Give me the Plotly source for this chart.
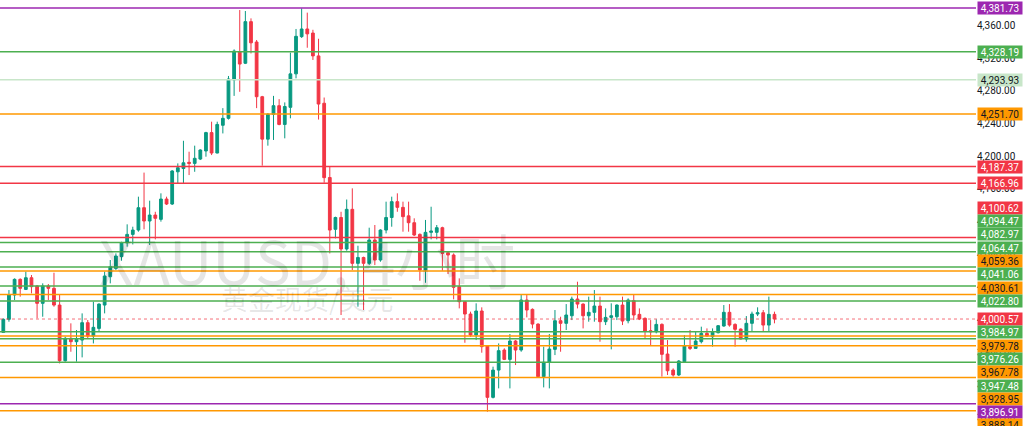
import plotly.graph_objects as go

# OHLC (XAUUSD 4h)
opens = [3984.2,4000.2,4030,4049.2,4036.9,4051.2,4041,4019.8,4041,4038.2,4017.7,3949.5,3976.9,3972.8,3974.8,3996.1,3979.7,3989.1,4017.7,4052.4,
4062.6,4077,4094,4104.3,4109.6,4137,4120.7,4128,4122.7,4147.6,4141.5,4181,4185,4192.6,4191.3,4196.6,4206.5,4229,4204,4238,
4246.5,4293.5,4328,4314,4365,4340,4273,4221,4251.4,4262,4239,4260,4301,4346.6,4356,4351,4323,4265,4174,4110.5,
4125,4086.4,4135,4068.8,4076,4068.8,4097.4,4072.9,4109.6,4125,4144.4,4137.4,4127,4118.6,4104.3,4060.6,4106.8,4106.8,4112.5,4081.9,
4079,4040.2,4021.8,4006.7,3981,4010.4,3967.5,3904.6,3938,3962.6,3951.1,3973.6,3962.6,4023.9,4012.4,3994.4,3930,3947.5,3963.4,3998.5,
3995.3,4004.6,4025.1,4018.9,4004.6,4008.8,4016.5,3997.3,4002.6,4003.4,4017.7,3998.5,4023.1,4006.3,4001.4,3986.3,3985,3994,3957.7,3938,
3932,3948.3,3966.7,3964.6,3972.8,3983,3978.9,3983.8,3992,4008.8,3994,3988.3,3976.1,3995.3,4006.7,4008.3,3993.2,4006.3]
highs = [4001.4,4036.1,4050.4,4050.4,4058.6,4054.5,4042.2,4044.3,4043.5,4057.3,4030,3978.9,3995.3,3987.1,4007.5,3999.4,4021.8,4019.8,4058.6,4072.9,
4081,4095.3,4116.6,4113.7,4150.5,4180,4145.6,4132,4154.6,4150.5,4183,4191.3,4219,4205.6,4213,4208.5,4230,4242.4,4242.4,4259,
4298.4,4331,4379.2,4378,4369,4342.5,4274,4253,4274,4270,4266,4327,4356,4381.3,4376,4355,4344,4272,4187,4126,
4132,4147,4160.7,4090.4,4077,4112.5,4115.8,4110.5,4144.4,4150.5,4154.6,4144.4,4144.4,4124,4105.5,4122,4138.2,4115.8,4113.7,4083,
4081,4050.4,4021.8,4009.6,4019.8,4014.9,3967.9,3942.2,3970.7,3964.7,3982.2,3974.8,4030,4030,4013.6,3995.3,3966.7,3982.2,4011.6,4003.4,
4018.9,4028,4046.3,4019.8,4028,4036.1,4028,4013.6,4019.8,4018.5,4028,4025.9,4030.8,4013.6,4002.6,3999.3,4000.2,3995.3,3974.8,3940.1,
3950.3,3981,3987.1,3985,3991.2,3989.1,3989.1,3993.2,4017.7,4018.9,3995.3,3989.1,4004.2,4009.6,4014.9,4011.6,4028,4009.6]
lows = [3984,3997.3,4023.9,4028,4036.1,4032,4001.4,4003.4,4023.9,4015.7,3946.2,3948.3,3960.5,3948.3,3953.6,3976.9,3970.7,3985,4007.5,4044.3,
4060.6,4072,4089.2,4092,4107.6,4110.5,4091.3,4098.2,4119.9,4140.3,4140.3,4166.8,4166,4177,4181,4195.4,4199.5,4201.5,4203.6,4228,
4245,4274,4279,4313,4326,4259,4188.5,4213,4220,4238,4222,4246.5,4295.5,4345,4333,4318,4245,4167.6,4081,4099.4,
4005.5,4084.3,4060.6,4015.7,4011.6,4066.7,4066.7,4070.8,4105.5,4113.7,4132,4107.6,4107.6,4102.3,4047.5,4045,4098.2,4098.2,4059.8,4055.7,
4024.7,4013.6,3971.5,3978.9,3974.8,3959.3,3887,3903.3,3915.6,3950.3,3915.6,3944.2,3960.5,4002.6,3989.1,3929.1,3916.8,3915.6,3956.4,3960.5,
3987.1,3999.3,4013.6,3989.1,3997.3,3997.3,3972.8,3993.2,3963.4,3999.3,3993.2,3995.3,3999.3,3999.3,3976.9,3967.5,3983,3930,3932,3930,
3930.7,3947.1,3962.6,3964.6,3970.7,3978.9,3966.7,3983,3991.2,3991.2,3966.7,3975.6,3972.8,3985,4004.2,3985,3985,3995.3]
closes = [4000.2,4030,4049.2,4038.2,4051.2,4040.2,4019.8,4041,4038.2,4017.7,3949.5,3976.9,3972.8,3975.6,3996.1,3979.7,3990.4,4018.9,4053.3,4064.7,
4077.8,4094,4104.3,4109.6,4137,4120.7,4128,4124,4147.6,4141.5,4182,4186,4192,4191.3,4197.5,4207.7,4229,4204,4239,4246.5,
4294.7,4329,4313,4365,4339,4273,4221,4251.4,4262,4239,4261,4301,4347,4356,4350,4323,4264,4173.8,4109.6,4125,
4086.4,4135,4068.8,4076,4068.8,4097.4,4072.9,4109.6,4125,4144.4,4137.4,4126,4118.6,4103.5,4060.6,4106.8,4108.4,4112.5,4081,4079,
4039.4,4021.8,4006.7,3981,4010.4,3966.7,3904.6,3938,3961.8,3951.1,3973.6,3962.6,4023.9,4011.6,3994.4,3930,3947.5,3963.8,3998.5,3995.3,
4005.5,4025.1,4018.9,4004.6,4008.8,4016.5,3997.3,4002.6,4004.6,4017.7,3998.1,4023.9,4005.5,4000.6,3985.9,3985,3994,3957.3,3937.2,3932,
3949.1,3967.5,3964.6,3973.6,3983,3979.7,3984.2,3992.4,4008.8,3993.2,3987.9,3976.1,3995.3,4006.7,4008.3,3993.2,4006.3,4000.57]

# Horizontal level lines: price, colour
level_prices = [4381.73,4328.19,4293.93,4251.70,4187.37,4166.96,4100.62,4094.47,4082.97,4064.47,4059.36,4041.06,
                4030.61,4022.80,4000.57,3984.97,3979.78,3976.26,3967.78,3947.48,3928.95,3896.91,3888.14]
PURPLE, GREEN, LGREEN, ORANGE, RED = "#9c27b0", "#4caf50", "#c8e6c9", "#ff9800", "#f23645"
level_colors = [PURPLE,GREEN,LGREEN,ORANGE,RED,RED,RED,GREEN,GREEN,GREEN,ORANGE,GREEN,
                ORANGE,GREEN,RED,GREEN,ORANGE,GREEN,ORANGE,GREEN,ORANGE,PURPLE,ORANGE]
current_price = 4000.57
tick_vals = [3880,3920,3960,4000,4040,4080,4120,4160,4200,4240,4280,4320,4360]

Y0, Y1 = 3869.5, 4391.5
H = 426
x = list(range(len(opens)))

fig = go.Figure(go.Candlestick(
    x=x, open=opens, high=highs, low=lows, close=closes,
    increasing=dict(line=dict(color="#089981", width=1), fillcolor="#089981"),
    decreasing=dict(line=dict(color="#f23645", width=1), fillcolor="#f23645"),
    whiskerwidth=0, showlegend=False, hoverinfo="skip"))

for p, c in zip(level_prices, level_colors):
    if p == current_price:
        fig.add_shape(type="line", xref="paper", x0=0, x1=1, y0=p, y1=p,
                      line=dict(color=c, width=1, dash="dot"), opacity=0.7)
    else:
        fig.add_shape(type="line", xref="paper", x0=0, x1=1, y0=p, y1=p,
                      line=dict(color=c, width=1.5))

# label stacking around current price
def to_px(p): return (Y1 - p) / (Y1 - Y0) * H
def to_p(px): return Y1 - px / H * (Y1 - Y0)
gap = 13.3
pos = {}
above = sorted([p for p in level_prices if p > current_price])
below = sorted([p for p in level_prices if p < current_price], reverse=True)
pos[current_price] = to_px(current_price)
prev = pos[current_price]
for p in above:
    y = min(to_px(p), prev - gap); pos[p] = y; prev = y
prev = pos[current_price]
for p in below:
    y = max(to_px(p), prev + gap); pos[p] = y; prev = y

for p, c in zip(level_prices, level_colors):
    dark = c in (ORANGE, LGREEN)
    fig.add_annotation(xref="paper", x=1, xanchor="left", xshift=1, y=to_p(pos[p]), yanchor="middle",
                       text=f"{p:,.2f}", showarrow=False, bgcolor=c, borderpad=0, width=44, height=12,
                       font=dict(family="Roboto", size=10, color="#131722" if dark else "white"))

fig.add_annotation(xref="paper", yref="paper", x=0.315, xanchor="center", y=0.394, text="XAUUSD, 4小时",
                   showarrow=False, font=dict(family="Noto Sans CJK SC", size=60, color="rgba(0,0,0,0.1)"))
fig.add_annotation(xref="paper", yref="paper", x=0.315, xanchor="center", y=0.25, text="黄金现货/美元",
                   showarrow=False, font=dict(family="Noto Sans CJK SC", size=27, color="rgba(0,0,0,0.1)"))

fig.update_layout(
    width=1024, height=426, margin=dict(l=0, r=48, t=0, b=0, autoexpand=False),
    paper_bgcolor="white", plot_bgcolor="white",
    xaxis=dict(range=[-0.59, 172.8], showgrid=False, showticklabels=False, zeroline=False,
               rangeslider=dict(visible=False), fixedrange=True),
    yaxis=dict(range=[Y0, Y1], side="right", showgrid=False, zeroline=False,
               tickvals=tick_vals, tickformat=",.2f", ticks="",
               tickfont=dict(family="Roboto", size=10, color="#131722")),
)
fig.write_html("out.html", config={"displayModeBar": False},
               post_script="document.body.style.margin='0';document.body.style.overflow='hidden';")
